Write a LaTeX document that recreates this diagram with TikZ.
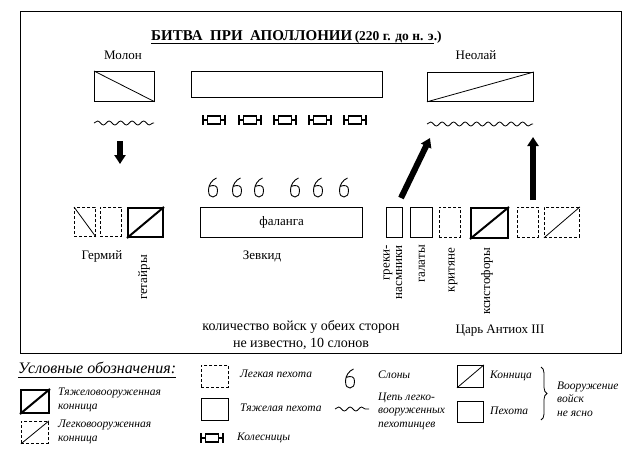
\documentclass[tikz,border=0pt]{standalone}
\usepackage{fontspec}
\setmainfont{Liberation Serif}
\usetikzlibrary{arrows.meta,decorations.pathmorphing,decorations.pathreplacing}
\tikzset{
 lbl/.style={font=\fontsize{13}{15}\selectfont, inner sep=0pt},
 rlbl/.style={lbl, rotate=90, anchor=east},
 leg/.style={font=\fontsize{11.5}{13.5}\itshape\selectfont, inner sep=0pt, anchor=west, align=left},
 unit/.style={draw, line width=0.8pt, inner sep=0pt, anchor=north west},
 light/.style={unit, dash pattern=on 3pt off 2pt},
 heavy/.style={unit, line width=1.4pt},
 heavycav/.style={unit, line width=2pt},
 bigarrow/.style={line width=6pt, -{Triangle[length=9pt,width=11pt]}},
 wave/.style={decorate, decoration={snake, segment length=11.5pt, amplitude=2pt}, line width=0.8pt},
 thin/.style={line width=0.8pt},
 chariot/.pic={
  \draw[line width=1.9pt] (-11,-5) -- (-11,5) (11,-5) -- (11,5)
        (-11,0) -- (-6.5,0) (6.5,0) -- (11,0);
  \draw[line width=1.9pt] (-6.5,-3.6) rectangle (6.5,3.6);
 },
 elephant/.pic={
  \draw[line width=0.9pt] (3.5,-11) .. controls (-1,-9) and (-4.5,-4.5) .. (-4.5,1)
     .. controls (-4.5,6.5) and (-2.5,8) .. (0,8)
     .. controls (3,8) and (4.5,5.5) .. (4.5,1)
     .. controls (4.5,-3.5) and (1,-4.5) .. (-4.3,-2.5);
 },
}
\begin{document}
\begin{tikzpicture}[x=1pt,y=-1pt]
\useasboundingbox (0,0) rectangle (631,474);
% frame
\node[draw, line width=1.3pt, minimum width=601pt, minimum height=342pt, anchor=north west, inner sep=0pt] (frame) at (20,11) {};
% title
\node[font=\bfseries\fontsize{15}{17}\selectfont, anchor=base west, inner sep=0pt] (title) at (151,40)
  {БИТВА\ \ ПРИ\ \ АПОЛЛОНИИ\,{\fontsize{13.5}{15}\selectfont(220 г. до н. э.)}};
\draw[line width=0.8pt] ([yshift=-3pt]title.base west) -- ([yshift=-3pt,xshift=-8pt]title.base east);
% commanders
\node[lbl] (molon) at (123,55) {Молон};
\node[lbl] (neolai) at (476,55) {Неолай};
% top row
\node[unit, minimum width=60pt, minimum height=30pt] (mbox) at (94,71) {};
\draw[thin] (mbox.north west) -- (mbox.south east);
\node[heavy, minimum width=191pt, minimum height=26pt] (cbox) at (191,71) {};
\node[unit, minimum width=106pt, minimum height=29pt] (nbox) at (427,72) {};
\draw[thin] (nbox.south west) -- (nbox.north east);
% waves
\coordinate (mw1) at (94,123); \coordinate (mw2) at (154,123);
\draw[wave] (mw1) -- (mw2);
\coordinate (nw1) at (427,124); \coordinate (nw2) at (533,124);
\draw[wave] (nw1) -- (nw2);
% chariots
\foreach \x/\n in {214/1,250/2,285/3,320/4,355/5}
  \pic (ch\n) at (\x,120) {chariot};
% arrows
\coordinate (a1s) at (120,141); \coordinate (a1e) at (120,164);
\draw[bigarrow] (a1s) -- (a1e);
\coordinate (a2s) at (401,198); \coordinate (a2e) at (430,138);
\draw[bigarrow] (a2s) -- (a2e);
\coordinate (a3s) at (533,200); \coordinate (a3e) at (533,137);
\draw[bigarrow] (a3s) -- (a3e);
% elephants
\foreach \x/\n in {213/1,237/2,259/3,295/4,318/5,344/6}
  \pic (el\n) at (\x,189) {elephant};
% bottom row
\node[light, minimum width=21pt, minimum height=29pt] (b1) at (74,207) {};
\draw[thin] (b1.north west) -- (b1.south east);
\node[light, minimum width=21pt, minimum height=29pt] (b2) at (100,207) {};
\node[heavycav, minimum width=35pt, minimum height=29pt] (b3) at (127,207) {};
\draw[line width=2pt] (b3.south west) -- (b3.north east);
\node[heavy, minimum width=162pt, minimum height=30pt] (phal) at (200,207) {};
\node[lbl] (phallbl) at (phal.center) {фаланга};
\node[heavy, minimum width=16pt, minimum height=30pt] (b4) at (386,207) {};
\node[heavy, minimum width=22pt, minimum height=30pt] (b5) at (410,207) {};
\node[light, minimum width=21pt, minimum height=30pt] (b6) at (439,207) {};
\node[heavycav, minimum width=37pt, minimum height=30pt] (b7) at (470,207) {};
\draw[line width=2pt] (b7.south west) -- (b7.north east);
\node[light, minimum width=21pt, minimum height=30pt] (b8) at (517,207) {};
\node[light, minimum width=35pt, minimum height=30pt] (b9) at (544,207) {};
\draw[thin] (b9.south west) -- (b9.north east);
% labels
\node[lbl] (germ) at (102,256) {Гермий};
\node[rlbl] (get) at (144,255) {гетайры};
\node[lbl] (zevk) at (262,256) {Зевкид};
\node[rlbl] (grek1) at (388,245) {греки-};
\node[rlbl] (grek2) at (399,245) {насмники};
\node[rlbl] (gal) at (422,245) {галаты};
\node[rlbl] (krit) at (453,248) {критяне};
\node[rlbl] (ksis) at (487,248) {ксистофоры};
\node[lbl, font=\fontsize{14}{16.5}\selectfont, align=center] (note) at (301,335)
  {количество войск у обеих сторон\\не известно, 10 слонов};
\node[lbl] (king) at (500,331) {Царь Антиох III};
% legend
\node[font=\fontsize{16}{18}\itshape\selectfont, inner sep=0pt, anchor=base west] (legt) at (18,373) {Условные обозначения:};
\draw[line width=0.8pt] ([yshift=-4pt]legt.base west) -- ([yshift=-4pt]legt.base east);
\node[heavycav, minimum width=28pt, minimum height=23pt] (l1) at (20,389) {};
\draw[line width=2pt] (l1.south west) -- (l1.north east);
\node[leg] (l1t) at (58,400) {Тяжеловооруженная\\конница};
\node[light, minimum width=27pt, minimum height=22pt] (l2) at (21,421) {};
\draw[thin] (l2.south west) -- (l2.north east);
\node[leg] (l2t) at (58,432) {Легковооруженная\\конница};
\node[light, minimum width=27pt, minimum height=22pt] (l3) at (201,365) {};
\node[leg] (l3t) at (240,374) {Легкая пехота};
\node[heavy, minimum width=27pt, minimum height=22pt] (l4) at (201,398) {};
\node[leg] (l4t) at (240,408) {Тяжелая пехота};
\pic (lch) at (212,438) {chariot};
\node[leg] (l5t) at (237,438) {Колесницы};
\pic (lel) at (350,380) {elephant};
\node[leg] (l6t) at (378,375) {Слоны};
\coordinate (lw1) at (335,409); \coordinate (lw2) at (369,409);
\draw[wave] (lw1) -- (lw2);
\node[leg] (l7t) at (378,411) {Цепь легко-\\вооруженных\\пехотинцев};
\node[unit, minimum width=26pt, minimum height=22pt] (l8) at (457,365) {};
\draw[thin] (l8.south west) -- (l8.north east);
\node[leg] (l8t) at (490,376) {Конница};
\node[unit, minimum width=26pt, minimum height=21pt] (l9) at (457,401) {};
\node[leg] (l9t) at (490,411) {Пехота};
\coordinate (br1) at (541,367); \coordinate (br2) at (541,420);
\draw[thin, decorate, decoration={brace, amplitude=6pt}] (br1) -- (br2);
\node[leg] (l10t) at (557,399) {Вооружение\\войск\\не ясно};
\end{tikzpicture}
\end{document}
